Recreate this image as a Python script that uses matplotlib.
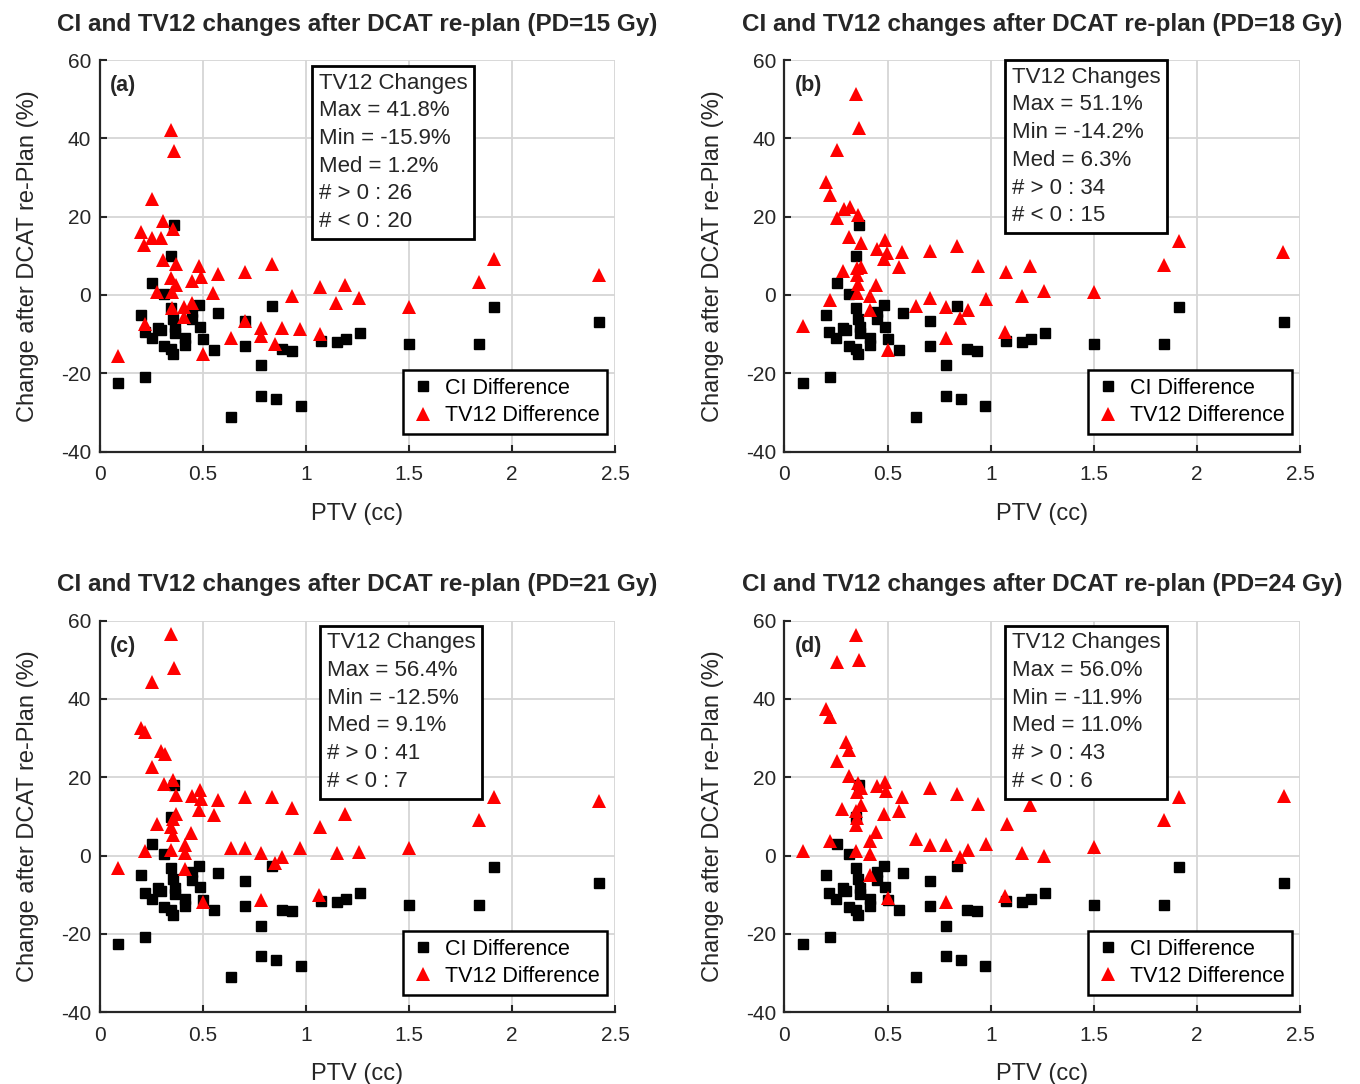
import numpy as np
import matplotlib
matplotlib.use("Agg")
import matplotlib.pyplot as plt

plt.rcParams['font.family'] = ['Liberation Sans', 'DejaVu Sans']
plt.rcParams['axes.unicode_minus'] = False

# ------------------------------------------------------------
# data

# CI difference is the same in all four panels
ci_ptv = [0.091, 0.220, 0.202, 0.218, 0.253, 0.252, 0.283, 0.297, 0.314, 0.313,
          0.347, 0.345, 0.362, 0.345, 0.357, 0.364, 0.364, 0.356, 0.414, 0.414,
          0.450, 0.447, 0.483, 0.488, 0.501, 0.555, 0.573, 0.706, 0.706, 0.637,
          0.783, 0.783, 0.836, 0.854, 0.885, 0.934, 0.974, 1.073, 1.149, 1.193,
          1.263, 1.500, 1.840, 1.914, 2.420]
ci_diff = [-22.6, -20.9, -5.0, -9.5, 3.0, -11.1, -8.4, -9.0, 0.3, -13.1,
           9.9, -13.8, 18.0, -3.2, -6.1, -8.2, -9.8, -15.2, -11.0, -12.9,
           -4.3, -6.2, -2.6, -8.1, -11.3, -14.0, -4.5, -6.6, -13.0, -31.1,
           -18.0, -25.7, -2.8, -26.6, -13.8, -14.2, -28.3, -11.7, -11.9, -11.2,
           -9.6, -12.6, -12.6, -3.0, -7.0]

# TV12 difference, PD = 15 Gy
tv_ptv_15 = [0.088, 0.221, 0.201, 0.217, 0.256, 0.298, 0.253, 0.309, 0.355, 0.345,
             0.363, 0.309, 0.371, 0.347, 0.371, 0.353, 0.277, 0.353, 0.411, 0.447,
             0.411, 0.447, 0.484, 0.492, 0.500, 0.573, 0.552, 0.705, 0.705, 0.636,
             0.781, 0.781, 0.835, 0.883, 0.852, 0.932, 0.972, 1.070, 1.070, 1.146,
             1.190, 1.259, 1.500, 1.840, 1.914, 2.420]
tv_diff_15 = [-15.6, -7.5, 16.2, 12.8, 14.5, 14.6, 24.4, 18.9, 16.9, 42.1,
              36.8, 8.9, 7.8, 4.4, 2.6, 0.7, 0.7, -3.4, -3.0, -2.1,
              -5.5, 3.6, 7.5, 4.7, -15.1, 5.3, 0.6, 5.8, -6.6, -10.9,
              -8.5, -10.6, 7.8, -8.5, -12.6, -0.2, -8.7, -10.0, 2.0, -2.1,
              2.6, -0.7, -3.0, 3.4, 9.2, 5.1]

# TV12 difference, PD = 18 Gy
tv_ptv_18 = [0.088, 0.221, 0.201, 0.221, 0.253, 0.347, 0.363, 0.253, 0.290, 0.316,
             0.355, 0.314, 0.371, 0.282, 0.350, 0.372, 0.353, 0.355, 0.350, 0.414,
             0.444, 0.414, 0.450, 0.487, 0.495, 0.484, 0.572, 0.553, 0.501, 0.705,
             0.705, 0.636, 0.781, 0.781, 0.835, 0.888, 0.852, 0.936, 0.975, 1.070,
             1.073, 1.152, 1.190, 1.259, 1.500, 1.840, 1.914, 2.418]
tv_diff_18 = [-7.8, -1.3, 28.8, 25.5, 37.0, 51.3, 42.7, 19.6, 22.0, 22.5,
              20.3, 14.9, 13.2, 6.0, 6.8, 7.2, 5.0, 2.8, 0.6, -0.2,
              2.6, -3.8, 11.8, 14.0, 10.7, 9.1, 11.1, 7.2, -14.0, 11.3,
              -0.7, -2.7, -3.0, -10.9, 12.6, -3.8, -5.8, 7.3, -0.9, -9.5,
              5.8, -0.2, 7.3, 1.1, 0.7, 7.7, 13.8, 10.9]

# TV12 difference, PD = 21 Gy
tv_ptv_21 = [0.088, 0.221, 0.201, 0.221, 0.253, 0.347, 0.363, 0.297, 0.315, 0.253,
             0.311, 0.354, 0.371, 0.279, 0.371, 0.355, 0.348, 0.355, 0.348, 0.415,
             0.415, 0.445, 0.415, 0.448, 0.485, 0.493, 0.484, 0.572, 0.553, 0.501,
             0.705, 0.636, 0.705, 0.781, 0.781, 0.835, 0.885, 0.852, 0.932, 0.972,
             1.070, 1.065, 1.190, 1.153, 1.259, 1.500, 1.840, 1.914, 2.420]
tv_diff_21 = [-3.3, 1.2, 32.5, 31.6, 44.2, 56.6, 48.0, 26.7, 25.9, 22.5,
              18.2, 19.2, 15.5, 8.0, 10.7, 9.2, 7.4, 5.3, 1.4, 2.8,
              0.6, 5.8, -3.5, 15.3, 16.8, 14.4, 11.6, 14.2, 10.4, -12.0,
              14.9, 1.8, 1.8, 0.7, -11.4, 14.9, -0.3, -1.9, 12.1, 2.0,
              7.2, -10.2, 10.7, 0.6, 0.9, 2.0, 9.1, 15.0, 13.8]

# TV12 difference, PD = 24 Gy
tv_ptv_24 = [0.088, 0.221, 0.201, 0.221, 0.253, 0.347, 0.363, 0.296, 0.315, 0.253,
             0.311, 0.355, 0.373, 0.352, 0.447, 0.485, 0.493, 0.572, 0.553, 0.484,
             0.279, 0.369, 0.348, 0.354, 0.348, 0.445, 0.415, 0.415, 0.348, 0.415,
             0.501, 0.705, 0.636, 0.705, 0.781, 0.781, 0.835, 0.888, 0.852, 0.936,
             0.975, 1.078, 1.070, 1.190, 1.153, 1.259, 1.500, 1.840, 1.914, 2.420]
tv_diff_24 = [1.2, 3.6, 37.3, 35.3, 49.4, 56.3, 49.9, 29.0, 26.9, 24.2,
              20.2, 18.4, 17.2, 16.2, 17.7, 18.8, 16.5, 14.9, 11.3, 10.6,
              11.9, 13.0, 11.3, 9.6, 7.8, 6.1, 3.6, 0.5, 1.2, -4.9,
              -10.8, 17.2, 4.1, 2.8, 2.6, -11.8, 15.6, 1.5, -0.5, 13.1,
              2.9, 8.0, -10.4, 12.8, 0.6, -0.2, 2.2, 9.1, 15.0, 15.3]

doses = [15, 18, 21, 24]
panel_tags = ['(a)', '(b)', '(c)', '(d)']
tv_max = ['41.8', '51.1', '56.4', '56.0']
tv_min = ['-15.9', '-14.2', '-12.5', '-11.9']
tv_med = ['1.2', '6.3', '9.1', '11.0']
n_pos = [26, 34, 41, 43]
n_neg = [20, 15, 7, 6]

x_ticks = [0, 0.5, 1, 1.5, 2, 2.5]
x_tick_labels = ['0', '0.5', '1', '1.5', '2', '2.5']
y_ticks = [-40, -20, 0, 20, 40, 60]

# ------------------------------------------------------------
# layout (figure fractions) and stats-box anchors (axes fractions)
axes_rects = [[0.0732, 0.5834, 0.3793, 0.3612],
              [0.5768, 0.5834, 0.3793, 0.3612],
              [0.0732, 0.0663, 0.3793, 0.3612],
              [0.5768, 0.0663, 0.3793, 0.3612]]
box_xy = [(0.425, 0.968), (0.4405, 0.983), (0.4405, 0.970), (0.4405, 0.970)]

tv_ptv = [tv_ptv_15, tv_ptv_18, tv_ptv_21, tv_ptv_24]
tv_diff = [tv_diff_15, tv_diff_18, tv_diff_21, tv_diff_24]

textCol = '#262626'


def drawPanel(fig, i):
    ax = fig.add_axes(axes_rects[i])

    ax.plot(ci_ptv, ci_diff, 's', color='black', markersize=6.5,
            linestyle='none', label='CI Difference', zorder=3)
    ax.plot(tv_ptv[i], tv_diff[i], '^', color='red', markersize=9.5,
            markeredgewidth=0, linestyle='none', label='TV12 Difference', zorder=4)

    ax.set_xlim(0, 2.5)
    ax.set_ylim(-40, 60)
    ax.set_xticks(x_ticks)
    ax.set_xticklabels(x_tick_labels)
    ax.set_yticks(y_ticks)

    # MATLAB-ish look: grid, box off, inward ticks
    ax.grid(True, color='#d6d6d6', linewidth=1.3)
    ax.set_axisbelow(True)
    for side in ['top', 'right']:
        ax.spines[side].set_visible(False)
    for side in ['left', 'bottom']:
        ax.spines[side].set_linewidth(1.6)
        ax.spines[side].set_color(textCol)
    ax.tick_params(direction='in', length=5, width=1.5, labelsize=15,
                   colors=textCol, pad=6)
    ax.tick_params(axis='x', pad=10)

    ax.set_xlabel('PTV (cc)', fontsize=17, color=textCol, labelpad=13)
    ax.set_ylabel('Change after DCAT re-Plan (%)', fontsize=17, color=textCol, labelpad=16)
    ax.set_title('CI and TV12 changes after DCAT re-plan (PD={} Gy)'.format(doses[i]),
                 fontsize=17.5, fontweight='bold', color=textCol, pad=21)

    ax.text(0.02, 0.935, panel_tags[i], transform=ax.transAxes, fontsize=15.5,
            fontweight='bold', va='center', ha='left', color=textCol)

    stats = 'TV12 Changes\nMax = {}%\nMin = {}%\nMed = {}%\n# > 0 : {}\n# < 0 : {}'.format(
        tv_max[i], tv_min[i], tv_med[i], n_pos[i], n_neg[i])
    bx, by = box_xy[i]
    ax.text(bx, by, stats, transform=ax.transAxes, fontsize=16, va='top', ha='left',
            color=textCol, linespacing=1.42, zorder=6,
            bbox=dict(boxstyle='square,pad=0.3', fc='white', ec='black', lw=2))

    leg = ax.legend(loc='lower right', bbox_to_anchor=(0.984, 0.045), borderaxespad=0,
                    fontsize=15.5, fancybox=False, framealpha=1, edgecolor='black',
                    handletextpad=0.4, borderpad=0.35, labelspacing=0.3,
                    handlelength=1.2)
    leg.get_frame().set_linewidth(1.8)
    leg.set_zorder(6)
    return ax


def main():
    fig = plt.figure(figsize=(13.6, 10.84), dpi=100)
    for i in range(4):
        drawPanel(fig, i)
    fig.savefig('out.png', dpi=100, facecolor='white')


if __name__ == '__main__':
    main()
